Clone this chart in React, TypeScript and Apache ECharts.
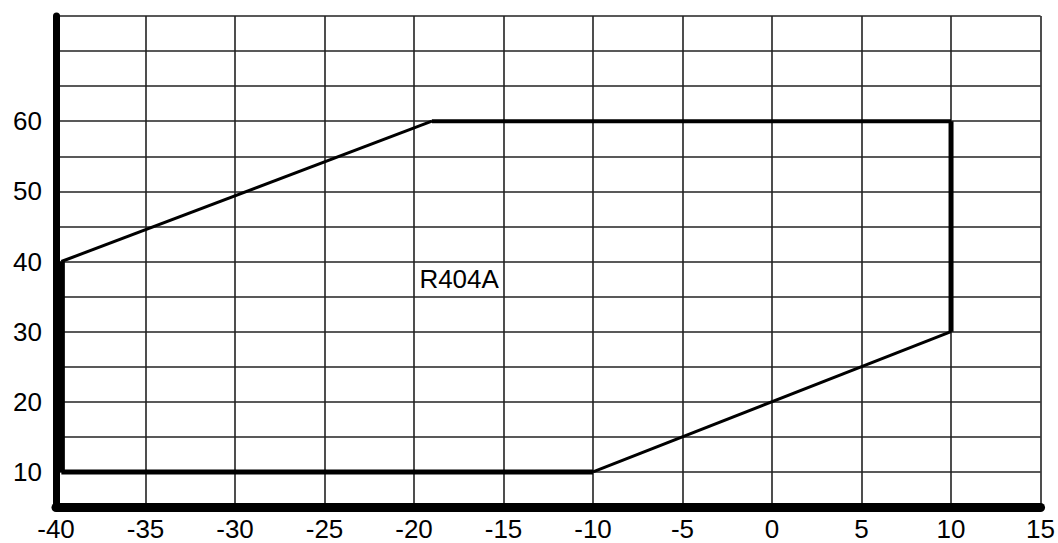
import React, { useEffect, useRef } from "react";
import * as echarts from "echarts";

// Operating envelope of R404A (evaporating temp °C vs condensing temp °C)
const envelopeX = [-39.7, -10, 10, 10, -19, -39.7, -39.7];
const envelopeY = [10, 10, 30, 60, 60, 40, 10];
const segmentWidths = [5, 3, 5, 4, 3, 7];
const labelText = "R404A";
const labelPoint = [-19.7, 37.5];
const xTicks = { min: -40, max: 15, step: 5 };
const yTicks = { min: 5, max: 75, step: 5 };
const yLabelsShown = [10, 20, 30, 40, 50, 60];

const FONT = "Liberation Sans, Arial, sans-serif";

export default function App() {
  const ref = useRef<HTMLDivElement>(null);
  useEffect(() => {
    if (!ref.current) return;
    const chart = echarts.init(ref.current, undefined, { renderer: "svg" });
    const segSeries = segmentWidths.map((w, i) => ({
      type: "line",
      data: [
        [envelopeX[i], envelopeY[i]],
        [envelopeX[i + 1], envelopeY[i + 1]],
      ],
      symbol: "none",
      lineStyle: { color: "#000", width: w },
      z: 5,
    }));
    chart.setOption({
      animation: false,
      backgroundColor: "#fff",
      grid: { left: 56, right: 15, top: 16, bottom: 36, containLabel: false },
      xAxis: {
        type: "value",
        min: xTicks.min,
        max: xTicks.max,
        interval: xTicks.step,
        axisLine: { show: true, onZero: false, lineStyle: { color: "#000", width: 9 } },
        axisTick: { show: false },
        axisLabel: {
          margin: 9,
          fontSize: 26,
          color: "#000",
          fontFamily: FONT,
          showMinLabel: true,
          showMaxLabel: true,
        },
        splitLine: { show: true, lineStyle: { color: "#222", width: 1.6 } },
      },
      yAxis: {
        type: "value",
        min: yTicks.min,
        max: yTicks.max,
        interval: yTicks.step,
        axisLine: { show: true, onZero: false, lineStyle: { color: "#000", width: 7 } },
        axisTick: { show: false },
        axisLabel: {
          margin: 14,
          fontSize: 26,
          color: "#000",
          fontFamily: FONT,
          formatter: (v: number) => (yLabelsShown.includes(v) ? String(v) : ""),
        },
        splitLine: { show: true, lineStyle: { color: "#222", width: 1.6 } },
      },
      series: [
        ...segSeries,
        {
          type: "scatter",
          data: [labelPoint],
          symbolSize: 0,
          itemStyle: { opacity: 1 },
          label: {
            show: true,
            position: "right",
            distance: 0,
            formatter: labelText,
            fontSize: 26,
            color: "#000",
            opacity: 1,
            fontFamily: FONT,
          },
          z: 6,
        },
      ],
    });
    return () => chart.dispose();
  }, []);
  return (
    <div
      ref={ref}
      style={{ position: "fixed", left: 0, top: 0, width: 1058, height: 543 }}
    />
  );
}
